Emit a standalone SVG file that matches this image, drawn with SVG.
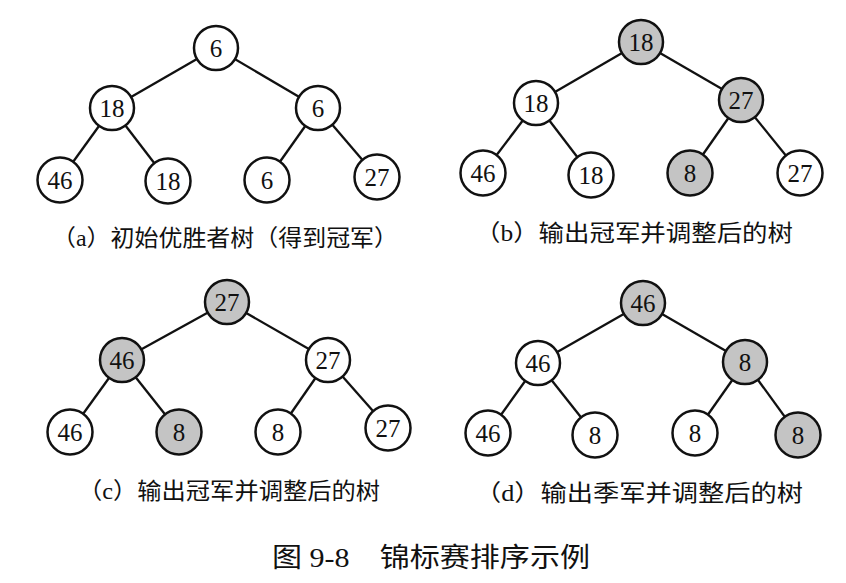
<svg xmlns="http://www.w3.org/2000/svg" width="846" height="583" viewBox="0 0 846 583">
<style>
.n circle{stroke:#111;stroke-width:2.5;fill:#fff}
.n.g circle{fill:#c4c4c4}
.n text{font-family:"Liberation Serif","Times New Roman",serif;font-size:25px;fill:#111;text-anchor:middle;dominant-baseline:central}
#edges line{stroke:#111;stroke-width:2.3}
.cap{font-family:"Liberation Serif","Noto Sans CJK SC",serif;font-size:23px;fill:#111}
.title{font-family:"Liberation Serif","Noto Sans CJK SC",serif;font-size:27px;fill:#111}
</style>
<rect width="846" height="583" fill="#fff"/>
<g id="edges">
<line x1="216" y1="48" x2="112" y2="108"/><line x1="216" y1="48" x2="318" y2="108"/>
<line x1="112" y1="108" x2="60" y2="180"/><line x1="112" y1="108" x2="168" y2="181"/>
<line x1="318" y1="108" x2="267" y2="180"/><line x1="318" y1="108" x2="377" y2="177"/>
<line x1="641" y1="42" x2="536" y2="103"/><line x1="641" y1="42" x2="741" y2="100"/>
<line x1="536" y1="103" x2="483" y2="173"/><line x1="536" y1="103" x2="591" y2="175"/>
<line x1="741" y1="100" x2="690" y2="173"/><line x1="741" y1="100" x2="800" y2="173"/>
<line x1="227" y1="302" x2="122" y2="360"/><line x1="227" y1="302" x2="328" y2="360"/>
<line x1="122" y1="360" x2="70" y2="432"/><line x1="122" y1="360" x2="179" y2="432"/>
<line x1="328" y1="360" x2="278" y2="432"/><line x1="328" y1="360" x2="388" y2="428"/>
<line x1="643" y1="303" x2="538" y2="363"/><line x1="643" y1="303" x2="745" y2="362"/>
<line x1="538" y1="363" x2="488" y2="433"/><line x1="538" y1="363" x2="595" y2="435"/>
<line x1="745" y1="362" x2="695" y2="433"/><line x1="745" y1="362" x2="798" y2="435"/>
</g>
<g id="a-root" class="n"><circle cx="216" cy="48" r="22"/><text x="216" y="48">6</text></g>
<g id="a-l" class="n"><circle cx="112" cy="108" r="22"/><text x="112" y="108">18</text></g>
<g id="a-r" class="n"><circle cx="318" cy="108" r="22"/><text x="318" y="108">6</text></g>
<g id="a-ll" class="n"><circle cx="60" cy="180" r="22.5"/><text x="60" y="180">46</text></g>
<g id="a-lr" class="n"><circle cx="168" cy="181" r="22.5"/><text x="168" y="181">18</text></g>
<g id="a-rl" class="n"><circle cx="267" cy="180" r="22.5"/><text x="267" y="180">6</text></g>
<g id="a-rr" class="n"><circle cx="377" cy="177" r="22.5"/><text x="377" y="177">27</text></g>
<text class="cap" x="52" y="246" textLength="346" lengthAdjust="spacingAndGlyphs">（a）初始优胜者树（得到冠军）</text>

<g id="b-root" class="n g"><circle cx="641" cy="42" r="22"/><text x="641" y="42">18</text></g>
<g id="b-l" class="n"><circle cx="536" cy="103" r="22"/><text x="536" y="103">18</text></g>
<g id="b-r" class="n g"><circle cx="741" cy="100" r="22"/><text x="741" y="100">27</text></g>
<g id="b-ll" class="n"><circle cx="483" cy="173" r="22.5"/><text x="483" y="173">46</text></g>
<g id="b-lr" class="n"><circle cx="591" cy="175" r="22.5"/><text x="591" y="175">18</text></g>
<g id="b-rl" class="n g"><circle cx="690" cy="173" r="22.5"/><text x="690" y="173">8</text></g>
<g id="b-rr" class="n"><circle cx="800" cy="173" r="22.5"/><text x="800" y="173">27</text></g>
<text class="cap" x="475" y="241" textLength="318" lengthAdjust="spacingAndGlyphs">（b）输出冠军并调整后的树</text>

<g id="c-root" class="n g"><circle cx="227" cy="302" r="22"/><text x="227" y="302">27</text></g>
<g id="c-l" class="n g"><circle cx="122" cy="360" r="22"/><text x="122" y="360">46</text></g>
<g id="c-r" class="n"><circle cx="328" cy="360" r="22"/><text x="328" y="360">27</text></g>
<g id="c-ll" class="n"><circle cx="70" cy="432" r="22.5"/><text x="70" y="432">46</text></g>
<g id="c-lr" class="n g"><circle cx="179" cy="432" r="22.5"/><text x="179" y="432">8</text></g>
<g id="c-rl" class="n"><circle cx="278" cy="432" r="22.5"/><text x="278" y="432">8</text></g>
<g id="c-rr" class="n"><circle cx="388" cy="428" r="22.5"/><text x="388" y="428">27</text></g>
<text class="cap" x="78" y="499" textLength="302" lengthAdjust="spacingAndGlyphs">（c）输出冠军并调整后的树</text>

<g id="d-root" class="n g"><circle cx="643" cy="303" r="22"/><text x="643" y="303">46</text></g>
<g id="d-l" class="n"><circle cx="538" cy="363" r="22"/><text x="538" y="363">46</text></g>
<g id="d-r" class="n g"><circle cx="745" cy="362" r="22"/><text x="745" y="362">8</text></g>
<g id="d-ll" class="n"><circle cx="488" cy="433" r="22.5"/><text x="488" y="433">46</text></g>
<g id="d-lr" class="n"><circle cx="595" cy="435" r="22.5"/><text x="595" y="435">8</text></g>
<g id="d-rl" class="n"><circle cx="695" cy="433" r="22.5"/><text x="695" y="433">8</text></g>
<g id="d-rr" class="n g"><circle cx="798" cy="435" r="22.5"/><text x="798" y="435">8</text></g>
<text class="cap" x="475" y="501" textLength="328" lengthAdjust="spacingAndGlyphs">（d）输出季军并调整后的树</text>

<text class="title" x="272" y="567" textLength="318" lengthAdjust="spacingAndGlyphs">图 9-8　锦标赛排序示例</text>
</svg>
